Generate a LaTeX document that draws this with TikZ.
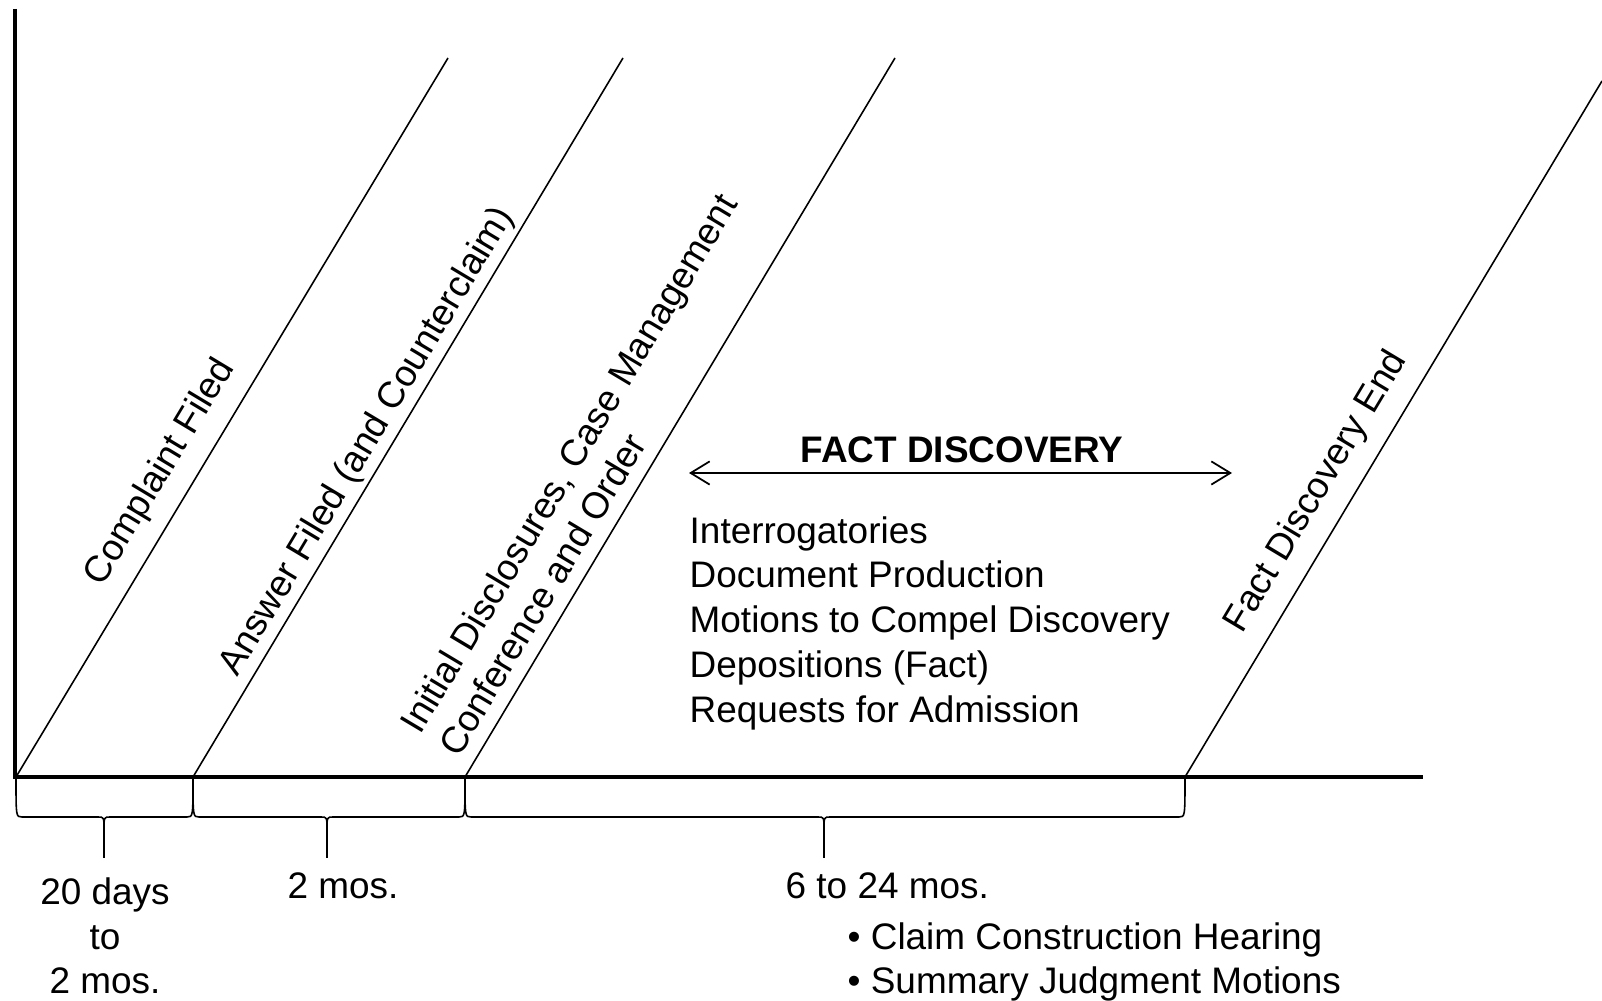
\documentclass[tikz,border=0pt]{standalone}
\usepackage{fontspec}
\setmainfont{Liberation Sans}
\usetikzlibrary{arrows.meta,positioning}

\tikzset{
  axisline/.style={draw, line width=1pt},
  stage/.style={draw, line width=0.45pt},
  tbrace/.style={draw, line width=0.45pt},
  event/.style={sloped, above, align=left},
  barb/.style={{Straight Barb[length=5.4pt,width=6.6pt]}-{Straight Barb[length=5.4pt,width=6.6pt]}, line width=0.5pt}
}

\begin{document}
\begin{tikzpicture}[x=0.01cm, y=-0.01cm,
    every node/.style={inner sep=0pt, font=\fontsize{10.5pt}{12.73pt}\selectfont}]
\useasboundingbox (0,0) rectangle (1602,1001);

% Axes
\coordinate (top) at (15,9);
\coordinate (origin) at (15,777);
\coordinate (end) at (1423,777);
\draw[axisline] (top) -- (origin) -- (end);

% Stages
\coordinate (s1) at (16,777);   \coordinate (t1) at (448,58);
\coordinate (s2) at (193,777);  \coordinate (t2) at (623,58);
\coordinate (s3) at (465,777);  \coordinate (t3) at (895,58);
\coordinate (s4) at (1185,777); \coordinate (t4) at (1602,81);

\draw[stage] (s1) -- node[event, pos=.40, outer sep=4.5pt] (complaint) {Complaint Filed} (t1);
\draw[stage] (s2) -- node[event, pos=.45, outer sep=1.4pt] (answer) {Answer Filed (and Counterclaim)} (t2);
\draw[stage] (s3) -- node[event, pos=.385, outer sep=4pt] (disclose) {Initial Disclosures, Case Management\\Conference and Order} (t3);
\draw[stage] (s4) -- node[event, pos=.385, outer sep=4.6pt] (factend) {Fact Discovery End} (t4);

% Fact discovery
\node (title) at (962,450) {\bfseries FACT DISCOVERY};
\coordinate (arrL) at (689,473);
\coordinate (arrR) at (1232,473);
\draw[barb] (arrL) -- (arrR);
\node[anchor=west, align=left] (tasks) at (689,623) {Interrogatories\\Document Production\\Motions to Compel Discovery\\Depositions (Fact)\\Requests for Admission};

% Braces
\foreach \l/\m/\r in {16/104/193, 193/327/465, 465/824/1185}
  \draw[tbrace] (\l,777) .. controls (\l,817) .. (\l+6,817) -- (\m-6,817)
    .. controls (\m,817) .. (\m,830) -- (\m,858) -- (\m,830)
    .. controls (\m,817) .. (\m+6,817) -- (\r-6,817) .. controls (\r,817) .. (\r,777);

% Durations
\node[align=center] (d1) at (105,936) {20 days\\to\\2 mos.};
\node (d2) at (343,886) {2 mos.};
\node[anchor=west] (d3) at (785,886) {6 to 24 mos.};
\node[anchor=west, align=left] (later) at (847,962) {\textbullet\ Claim Construction Hearing\\\textbullet\ Summary Judgment Motions};

\end{tikzpicture}
\end{document}
